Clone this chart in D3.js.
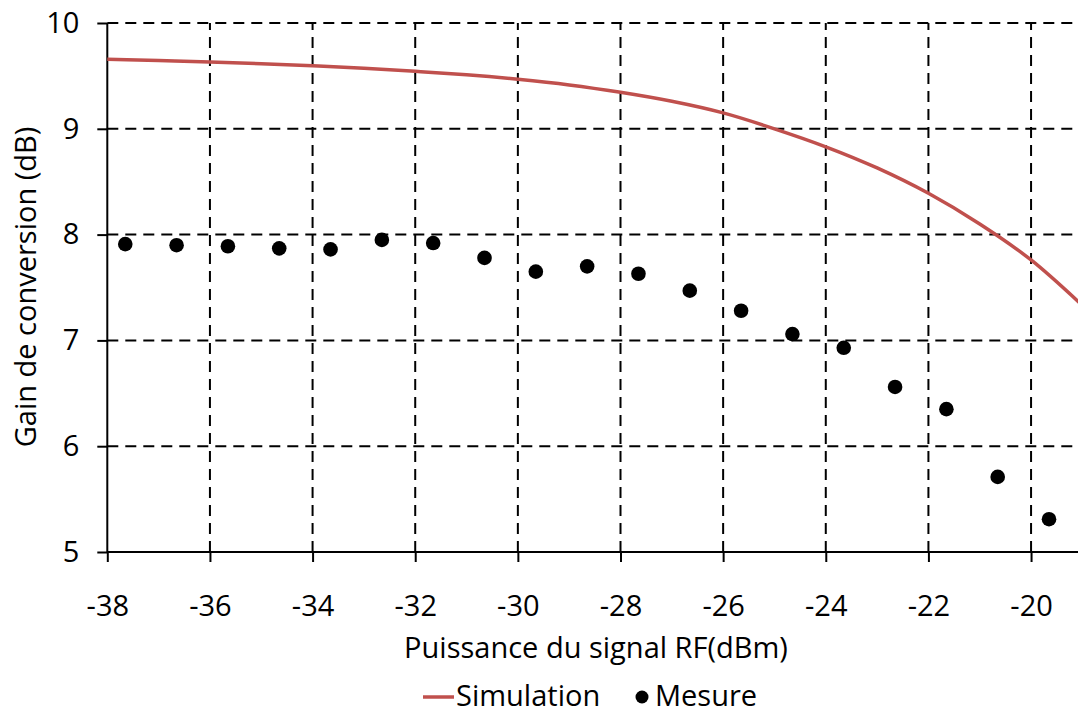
<!DOCTYPE html>
<html>
<head>
<meta charset="utf-8">
<script src="https://cdn.jsdelivr.net/npm/d3@7/dist/d3.min.js"></script>
<style>
  html, body { margin: 0; padding: 0; background: #fff; }
  svg { display: block; font-family: "Open Sans", sans-serif; }
</style>
</head>
<body>
<svg id="chart" width="1078" height="715"></svg>
<script>
// ---- data ----
const simX = [-38, -37, -36, -35, -34, -33, -32, -31, -30, -29, -28, -27, -26, -25, -24, -23, -22, -21, -20, -19];
const simY = [9.657, 9.645, 9.632, 9.615, 9.595, 9.572, 9.543, 9.510, 9.468, 9.415, 9.345, 9.26, 9.15, 9.0, 8.83, 8.63, 8.39, 8.10, 7.76, 7.33];
const mesX = [-37.65, -36.65, -35.65, -34.65, -33.65, -32.65, -31.65, -30.65, -29.65, -28.65, -27.65, -26.65, -25.65, -24.65, -23.65, -22.65, -21.65, -20.65, -19.65];
const mesY = [7.91, 7.90, 7.89, 7.87, 7.86, 7.95, 7.92, 7.78, 7.65, 7.70, 7.63, 7.47, 7.28, 7.06, 6.93, 6.56, 6.35, 5.71, 5.31];
const xTicks = [-38, -36, -34, -32, -30, -28, -26, -24, -22, -20];
const yTicks = [5, 6, 7, 8, 9, 10];
const xTitle = "Puissance du signal RF(dBm)";
const yTitle = "Gain de conversion (dB)";
const seriesNames = ["Simulation", "Mesure"];

// ---- layout ----
const svg = d3.select("#chart");
const x = d3.scaleLinear().domain([-38, -19]).range([107.3, 107.3 + 19 * 51.32]);
const y = d3.scaleLinear().domain([5, 10]).range([552, 23]);
const x0 = x.range()[0], x1 = 1078, y0 = y.range()[0], y1 = y.range()[1];
const dash = "11,7";
const font = "'Open Sans', sans-serif";
const tfs = "29px";

// gridlines
svg.append("g").selectAll("line").data(yTicks.filter(d => d !== 5)).join("line")
  .attr("x1", x0).attr("x2", x1).attr("y1", d => y(d)).attr("y2", d => y(d))
  .attr("stroke", "#000").attr("stroke-width", 2).attr("stroke-dasharray", dash);
svg.append("g").selectAll("line").data(xTicks.filter(d => d !== -38)).join("line")
  .attr("x1", d => x(d)).attr("x2", d => x(d)).attr("y1", y0).attr("y2", y1)
  .attr("stroke", "#000").attr("stroke-width", 2).attr("stroke-dasharray", dash);

// axes
const fs = 29;
const xAxis = svg.append("g").attr("transform", `translate(0,${y0})`)
  .call(d3.axisBottom(x).tickValues(xTicks).tickSize(10).tickPadding(33).tickFormat(d => d));
xAxis.select(".domain").attr("d", `M${x0},0H${x1}`);
const yAxis = svg.append("g").attr("transform", `translate(${x0},0)`)
  .call(d3.axisLeft(y).tickValues(yTicks).tickSize(10).tickPadding(18).tickFormat(d => d));
yAxis.select(".domain").attr("d", `M0,${y0}V${y1}`);
[xAxis, yAxis].forEach(g => {
  g.select(".domain").attr("stroke", "#000").attr("stroke-width", 2);
  g.selectAll(".tick line").attr("stroke", "#000").attr("stroke-width", 2);
  g.selectAll(".tick text").attr("fill", "#000").style("font-size", fs + "px").style("font-family", font);
});
xAxis.selectAll(".tick text").attr("dy", "0.71em");

// simulation line
const line = d3.line().x((d, i) => x(simX[i])).y(d => y(d)).curve(d3.curveMonotoneX);
svg.append("path").datum(simY).attr("d", line)
  .attr("fill", "none").attr("stroke", "#c0504d").attr("stroke-width", 3.5);

// measured points
svg.append("g").selectAll("circle").data(mesY).join("circle")
  .attr("cx", (d, i) => x(mesX[i])).attr("cy", d => y(d)).attr("r", 7.3).attr("fill", "#000");

// axis titles
svg.append("text").attr("x", 596).attr("y", 658).attr("text-anchor", "middle")
  .style("font-size", tfs).style("font-family", font).attr("fill", "#000").text(xTitle);
svg.append("text").attr("transform", "translate(36,287) rotate(-90)").attr("text-anchor", "middle")
  .style("font-size", tfs).style("font-family", font).attr("fill", "#000").text(yTitle);

// legend
const lg = svg.append("g");
lg.append("line").attr("x1", 423).attr("x2", 454).attr("y1", 697).attr("y2", 697)
  .attr("stroke", "#c0504d").attr("stroke-width", 3.5);
lg.append("text").attr("x", 456).attr("y", 706).style("font-size", tfs).style("font-family", font).attr("fill", "#000").text(seriesNames[0]);
lg.append("circle").attr("cx", 642).attr("cy", 697).attr("r", 6.5).attr("fill", "#000");
lg.append("text").attr("x", 655).attr("y", 706).style("font-size", tfs).style("font-family", font).attr("fill", "#000").text(seriesNames[1]);
</script>
</body>
</html>
